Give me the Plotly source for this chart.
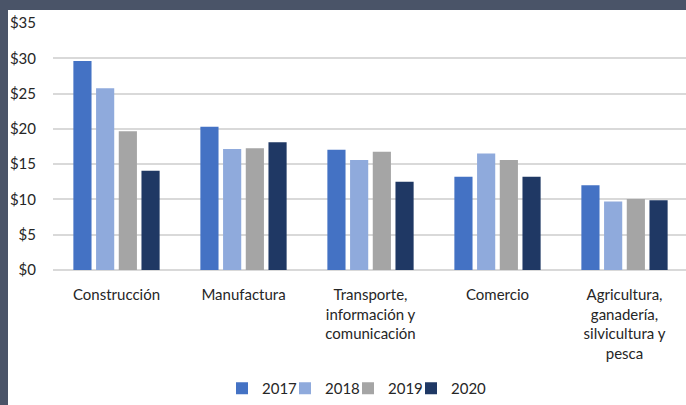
import plotly.graph_objects as go

# categories and values (billions)
sectors = [
    "Construcción",
    "Manufactura",
    "Transporte,<br>información y<br>comunicación",
    "Comercio",
    "Agricultura,<br>ganadería,<br>silvicultura y<br>pesca",
]
years = ["2017", "2018", "2019", "2020"]
v2017 = [29.6, 20.3, 17.05, 13.2, 12.0]
v2018 = [25.75, 17.15, 15.6, 16.5, 9.7]
v2019 = [19.65, 17.25, 16.75, 15.6, 10.05]
v2020 = [14.05, 18.1, 12.5, 13.2, 9.9]
colors = ["#4472C4", "#8FAADC", "#A5A5A5", "#1F3864"]

W, H = 686, 405
L, R, T, B = 53, 0, 23, 135
pw, ph = W - L - R, H - T - B


def px_x(p):
    return (p - L) / pw


def px_y(p):
    return (H - B - p) / ph


fig = go.Figure()
for name, vals, col in zip(years, [v2017, v2018, v2019, v2020], colors):
    fig.add_trace(go.Bar(
        name=name, x=sectors, y=vals, marker_color=col,
        marker_line_width=0,
    ))

# empty spacer entry so the last legend label isn't clipped
fig.add_trace(go.Scatter(
    name=" ", x=[sectors[0]], y=[None], mode="markers",
    marker=dict(color="rgba(0,0,0,0)"), hoverinfo="skip",
))

# dark frame strips (top and left)
frame = "#4A5468"
fig.add_shape(type="rect", xref="paper", yref="paper",
              x0=px_x(-5), x1=px_x(W + 5), y0=px_y(10), y1=px_y(-5),
              fillcolor=frame, line_width=0)
fig.add_shape(type="rect", xref="paper", yref="paper",
              x0=px_x(-5), x1=px_x(8), y0=px_y(H + 5), y1=px_y(-5),
              fillcolor=frame, line_width=0)

font = "Lato, 'Open Sans', sans-serif"
fig.update_layout(
    width=W, height=H,
    margin=dict(l=L, r=R, t=T, b=B, pad=0),
    paper_bgcolor="white", plot_bgcolor="white",
    barmode="group", bargap=0.285, bargroupgap=0.2,
    font=dict(family=font, size=15, color="#262626"),
    showlegend=True,
    legend=dict(
        orientation="h", x=px_x(222), xanchor="left",
        yref="container", y=-6 / H, yanchor="bottom",
        itemwidth=30, entrywidth=18, font=dict(size=15),
        traceorder="normal",
    ),
    xaxis=dict(
        range=[-0.5, -0.5 + pw / 127.0], automargin=False,
        showgrid=False, showline=False, ticks="",
        tickangle=0, ticklabelstandoff=14,
    ),
    yaxis=dict(
        range=[0, 35], dtick=5, tickprefix="$", automargin=False,
        showgrid=True, gridcolor="#D9D9D9", gridwidth=1.5,
        zeroline=True, zerolinecolor="#D9D9D9", zerolinewidth=1.5,
        showline=False, ticks="", ticklabelstandoff=16,
    ),
)

fig.write_html("out.html", config={"displayModeBar": False},
               post_script="document.body.style.margin='0';")
